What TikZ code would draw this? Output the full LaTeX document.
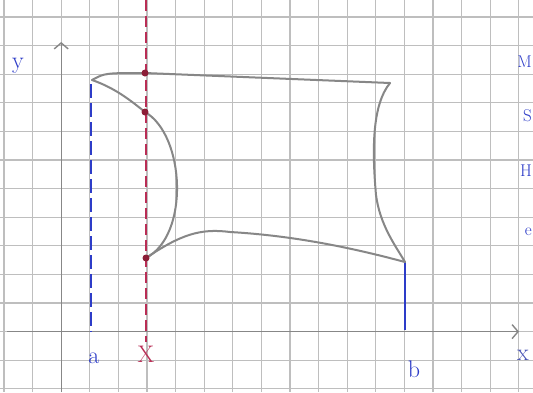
\documentclass[tikz,border=0pt]{standalone}
\usepackage{tikz}
\usetikzlibrary{positioning, arrows.meta, calc}
\definecolor{pencil}{RGB}{135,135,135}
\definecolor{gridgray}{RGB}{190,190,190}
\definecolor{inkblue}{RGB}{45,60,200}
\definecolor{inkred}{RGB}{185,45,85}
\definecolor{dotred}{RGB}{140,30,55}

\begin{document}
\begin{tikzpicture}[x=1pt, y=-1pt,
  gridline/.style={gridgray, line width=1.1pt},
  axisline/.style={pencil, line width=1.4pt},
  curveline/.style={pencil, line width=2pt, line cap=round},
  hand/.style={font=\fontsize{24}{26}\selectfont, inner sep=0pt},
  note/.style={font=\fontsize{17}{19}\selectfont, inner sep=0pt, text=inkblue, anchor=east},
  reddot/.style={circle, fill=dotred, inner sep=0pt, minimum size=7pt}]
\useasboundingbox[fill=white] (0,0) rectangle (533,392);
% Grid
\foreach \i in {0,...,18} \draw[gridline] (4+28.6*\i, 0) -- (4+28.6*\i, 392);
\foreach \j in {0,...,13} \draw[gridline] (0, 17+28.6*\j) -- (533, 17+28.6*\j);

% Axes
\coordinate (xstart) at (7, 331.6);
\coordinate (xend) at (519, 331.6);
\coordinate (ystart) at (61.2, 392);
\coordinate (yend) at (61.2, 42);
\draw[axisline, -{Straight Barb[length=6pt, width=14pt]}] (xstart) -- (xend);
\draw[axisline, -{Straight Barb[length=6pt, width=14pt]}] (ystart) -- (yend);
\node[hand, text=inkblue] (ylab) at (18, 66) {y};
\node[hand, text=inkblue!70!pencil] (xlab) at (523, 355) {x};

% Bounds a, b and the cut at X
\coordinate (atop) at (91, 84);
\coordinate (abot) at (91, 331.6);
\coordinate (btop) at (405, 262);
\coordinate (bbot) at (405, 330);
\coordinate (cuttop) at (146, 0);
\coordinate (cutbot) at (146, 342);
\draw[inkblue, line width=1.2pt, dash pattern=on 14pt off 5pt] (atop) -- (abot);
\draw[inkblue, line width=1.2pt] (btop) -- (bbot);
\draw[inkred, line width=1.4pt, dash pattern=on 11pt off 5pt] (cuttop) -- (cutbot);
\node[hand, text=inkblue] (alab) at (94, 358) {a};
\node[hand, text=inkred] (cutlab) at (146, 354) {X};
\node[hand, text=inkblue] (blab) at (414, 369) {b};

% Region
\coordinate (tl) at (92, 80);
\coordinate (tr) at (390, 83);
\coordinate (br) at (405, 262);
\coordinate (p1) at (145, 73);
\coordinate (p2) at (145, 112);
\coordinate (p3) at (146, 258);
\draw[curveline] (tl) .. controls (105, 73) .. (p1) -- (tr);
\draw[curveline] (tl) .. controls (115, 88) and (130, 100) .. (p2)
  .. controls (185, 135) and (190, 235) .. (p3);
\draw[curveline] (p3) .. controls (180, 235) and (200, 228) .. (230, 232)
  .. controls (300, 236) and (360, 250) .. (br);
\draw[curveline] (tr) .. controls (372, 105) and (372, 150) .. (376, 195)
  .. controls (380, 225) and (395, 245) .. (br);
\node[reddot] (d1) at (p1) {};
\node[reddot] (d2) at (p2) {};
\node[reddot] (d3) at (p3) {};

% Notes at the right edge
\node[note] (nm) at (532, 62) {M};
\node[note] (ns) at (532, 116) {S};
\node[note] (nh) at (532, 171) {H};
\node[note] (ne) at (532, 232) {e};
\end{tikzpicture}
\end{document}
